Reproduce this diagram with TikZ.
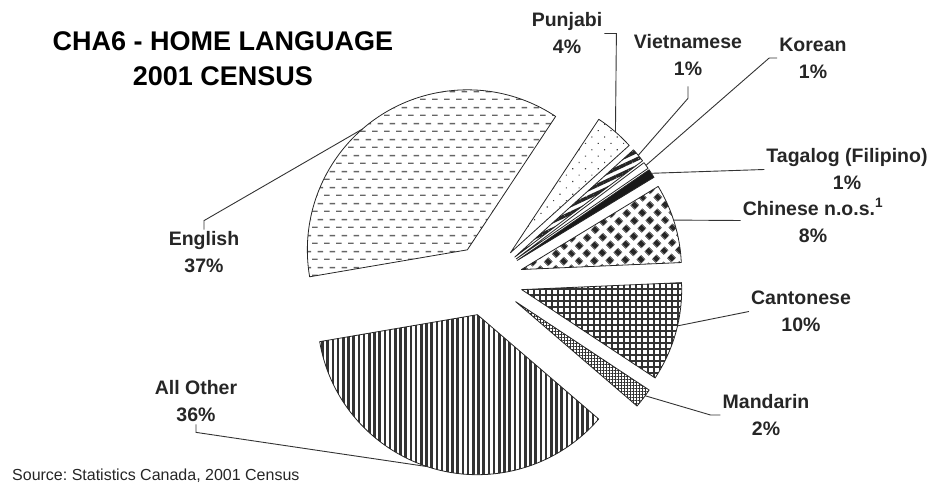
\documentclass[tikz,border=0pt]{standalone}
\usepackage{fontspec}
\setmainfont{Liberation Sans}
\usetikzlibrary{patterns.meta}

\tikzdeclarepattern{name=engdash, type=uncolored,
  bounding box={(0pt,0pt) and (12pt,16pt)}, tile size={(12pt,16pt)},
  code={\draw[line width=1.5pt] (0pt,4pt) -- (6pt,4pt) (6pt,12pt) -- (12pt,12pt);}}
\tikzdeclarepattern{name=diamonds, type=uncolored,
  bounding box={(0pt,0pt) and (10.6pt,10.6pt)}, tile size={(10.6pt,10.6pt)},
  tile transformation={rotate=45},
  code={\fill (2pt,2pt) rectangle (8.6pt,8.6pt);}}

\begin{document}
\frenchspacing
\begin{tikzpicture}[x=1pt, y=1pt,
    slice/.style={draw=black!85, line width=0.8pt, line join=round},
    lbl/.style={font=\bfseries\fontsize{19.5}{27}\selectfont, align=center, inner sep=2pt, text=black!85},
    heading/.style={font=\bfseries\fontsize{27}{35}\selectfont, align=center, inner sep=0pt},
    leader/.style={draw=black!80, line width=0.9pt}]
   \useasboundingbox (0,0) rectangle (938,487);

   % exploded pie, each slice pushed 36 out from the centre
   \begin{scope}[shift={(487,207)}]
   \draw[slice, pattern=engdash, pattern color=black!60]
      (123.1:36) -- ++(56.5:160) arc[start angle=56.5, end angle=189.7, radius=160] -- cycle;
   \draw[slice, pattern={Lines[angle=90, distance=5.2pt, line width=2.6pt]}, pattern color=black!80]
      (254.5:36) -- ++(189.7:160) arc[start angle=189.7, end angle=319.3, radius=160] -- cycle;
   \draw[slice, pattern={Hatch[distance=3pt, line width=0.9pt]}, pattern color=black!80]
      (322.9:36) -- ++(319.3:160) arc[start angle=319.3, end angle=326.5, radius=160] -- cycle;
   \draw[slice, pattern={Hatch[distance=6pt, line width=1.1pt]}, pattern color=black!80]
      (344.5:36) -- ++(326.5:160) arc[start angle=326.5, end angle=362.5, radius=160] -- cycle;
   \draw[slice, pattern=diamonds, pattern color=black!85]
      (16.9:36) -- ++(2.5:160) arc[start angle=2.5, end angle=31.3, radius=160] -- cycle;
   \draw[slice, fill=black!90]
      (32.9:36) -- ++(31.3:160) arc[start angle=31.3, end angle=34.5, radius=160] -- cycle;
   \draw[slice, fill=white]
      (35.8:36) -- ++(34.5:160) arc[start angle=34.5, end angle=37.0, radius=160] -- cycle;
   \draw[slice, pattern={Lines[angle=25, distance=7pt, line width=3.5pt]}, pattern color=black!85]
      (39.5:36) -- ++(37.0:160) arc[start angle=37.0, end angle=42.1, radius=160] -- cycle;
   \draw[slice, pattern={Dots[distance=9pt, radius=0.8pt, angle=45]}, pattern color=black!75]
      (49.3:36) -- ++(42.1:160) arc[start angle=42.1, end angle=56.5, radius=160] -- cycle;

   \path (123.1:36) ++(131:160) coordinate (eng-arc);
   \path (254.5:36) ++(251.7:160) coordinate (oth-arc);
   \path (322.9:36) ++(324:160) coordinate (man-arc);
   \path (344.5:36) ++(346.9:160) coordinate (can-arc);
   \path (16.9:36) ++(18:160) coordinate (chi-arc);
   \path (32.9:36) ++(33:160) coordinate (tag-arc);
   \path (35.8:36) ++(35.8:160) coordinate (kor-arc);
   \path (39.5:36) ++(39.5:160) coordinate (vie-arc);
   \path (49.3:36) ++(49:160) coordinate (pun-arc);
   \end{scope}

   \node[heading] (title) at (223,428.5) {CHA6 - HOME LANGUAGE\\2001 CENSUS};

   \node[lbl] (english)    at (204,234.5) {English\\37\%};
   \node[lbl] (allother)   at (196,85.5)  {All Other\\36\%};
   \node[lbl] (mandarin)   at (766,72)    {Mandarin\\2\%};
   \node[lbl] (cantonese)  at (801,175.5) {Cantonese\\10\%};
   \node[lbl] (chinese)    at (813,266.5) {Chinese n.o.s.\textsuperscript{1}\\8\%};
   \node[lbl] (tagalog)    at (847,317.5) {Tagalog (Filipino)\\1\%};
   \node[lbl] (korean)     at (813,429)   {Korean\\1\%};
   \node[lbl] (vietnamese) at (688,431.5) {Vietnamese\\1\%};
   \node[lbl] (punjabi)    at (567,453.5) {Punjabi\\4\%};
   \node[font=\fontsize{16}{18}\selectfont, anchor=west, inner sep=0pt, text=black!85] (source) at (12,11)
      {Source: Statistics Canada, 2001 Census};

   \draw[leader] (eng-arc) -- ([yshift=9pt]english.north) -- (english.north);
   \draw[leader] (oth-arc) -- ([yshift=-8pt]allother.south) -- (allother.south);
   \draw[leader] (man-arc) -- ([xshift=-10pt]mandarin.west) -- (mandarin.west);
   \draw[leader] (can-arc) -- (cantonese.west);
   \draw[leader] (chi-arc) -- (chinese.west);
   \draw[leader] (tag-arc) -- (tagalog.west);
   \draw[leader] (kor-arc) -- ([xshift=-8pt]korean.west) -- (korean.west);
   \draw[leader] (vie-arc) -- ([yshift=-20pt]vietnamese.south) -- ([yshift=-8pt]vietnamese.south);
   \draw[leader] (pun-arc) -- ([xshift=12pt]punjabi.east) -- (punjabi.east);
\end{tikzpicture}
\end{document}
